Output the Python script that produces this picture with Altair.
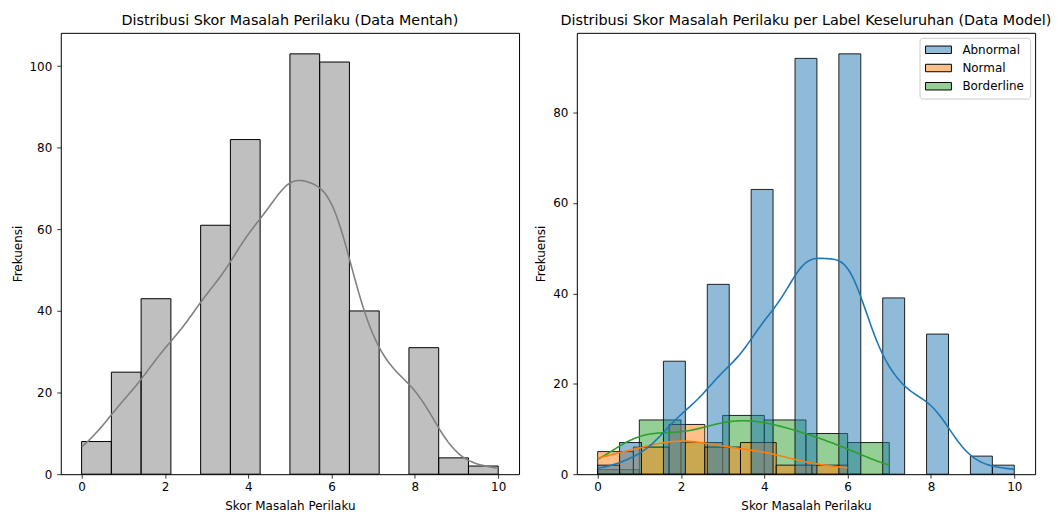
import altair as alt
import numpy as np
import pandas as pd

# ---------------- data ----------------
scores = list(range(11))
raw_counts = [8, 25, 43, 61, 82, 103, 101, 40, 31, 4, 2]
abnormal_counts = [2, 7, 25, 42, 63, 92, 93, 39, 31, 4, 2]
normal_counts = [5, 6, 11, 6, 7, 2, 2, 0, 0, 0, 0]
borderline_counts = [1, 12, 7, 13, 12, 9, 6, 1, 0, 0, 0]

labels = ["Abnormal", "Normal", "Borderline"]
label_colors = ["#1f77b4", "#ff7f0e", "#2ca02c"]

# number of histogram bins used for each series
bins_raw = 14
bins_group = {"Abnormal": 19, "Normal": 7, "Borderline": 7}

x_ticks = [0, 2, 4, 6, 8, 10]
y_ticks_left = [0, 20, 40, 60, 80, 100]
y_ticks_right = [0, 20, 40, 60, 80]

title_left = "Distribusi Skor Masalah Perilaku (Data Mentah)"
title_right = "Distribusi Skor Masalah Perilaku per Label Keseluruhan (Data Model)"
x_title = "Skor Masalah Perilaku"
y_title = "Frekuensi"

FONT = "DejaVu Sans"

# ---------------- tables built from the arrays ----------------
def expand(counts):
    return np.repeat(np.array(scores, dtype=float), counts)

def hist_table(values, nbins, name):
    lo, hi = values.min(), values.max()
    cnt, edges = np.histogram(values, bins=nbins, range=(lo, hi))
    rows = [
        {"group": name, "start": float(edges[i]), "end": float(edges[i + 1]), "count": int(c)}
        for i, c in enumerate(cnt) if c > 0
    ]
    return pd.DataFrame(rows), (hi - lo) / nbins

raw_values = expand(raw_counts)
group_values = {
    "Abnormal": expand(abnormal_counts),
    "Normal": expand(normal_counts),
    "Borderline": expand(borderline_counts),
}

raw_hist, raw_bw = hist_table(raw_values, bins_raw, "raw")
group_hist = {}
group_binw = {}
for g in labels:
    group_hist[g], group_binw[g] = hist_table(group_values[g], bins_group[g], g)

def scott_bw(v):
    return float(np.std(v, ddof=1) * len(v) ** (-1 / 5))

x_scale = alt.Scale(domain=[-0.5, 10.5], nice=False, zero=False)
y_left = alt.Scale(domain=[0, max(raw_counts) * 1.05], nice=False)
y_right = alt.Scale(domain=[0, max(abnormal_counts) * 1.05], nice=False)

def x_axis(title):
    return alt.Axis(values=x_ticks, title=title, labelPadding=3, titlePadding=8)

def y_axis(values):
    return alt.Axis(values=values, title=y_title, labelPadding=5, titlePadding=5)

W, H = 460, 443

# ---------------- left panel ----------------
left_bars = alt.Chart(raw_hist).mark_bar(fill="#808080").encode(
    x=alt.X("start:Q", scale=x_scale, axis=x_axis(x_title)),
    x2="end:Q",
    y=alt.Y("count:Q", scale=y_left, axis=y_axis(y_ticks_left)),
    y2=alt.datum(0),
)

raw_df = pd.DataFrame({"score": raw_values})
n_raw = len(raw_values)
left_kde = alt.Chart(raw_df).transform_density(
    "score", as_=["score", "density"], bandwidth=scott_bw(raw_values),
    extent=[float(raw_values.min()), float(raw_values.max())], steps=200,
).transform_calculate(
    kde=f"datum.density * {n_raw} * {raw_bw}"
).mark_line(color="#808080", strokeWidth=1.6).encode(
    x=alt.X("score:Q", scale=x_scale),
    y=alt.Y("kde:Q", scale=y_left),
)

left = alt.layer(left_bars, left_kde).properties(
    width=W, height=H, title=alt.TitleParams(title_left)
)

# ---------------- right panel ----------------
# bars drawn in order Borderline -> Normal -> Abnormal (Abnormal on top)
right_hist = pd.concat([group_hist["Borderline"], group_hist["Normal"], group_hist["Abnormal"]],
                       ignore_index=True)

right_bars = alt.Chart(right_hist).mark_bar(strokeOpacity=0.85).encode(
    x=alt.X("start:Q", scale=x_scale, axis=x_axis(x_title)),
    x2="end:Q",
    y=alt.Y("count:Q", scale=y_right, axis=y_axis(y_ticks_right)),
    y2=alt.datum(0),
    color=alt.Color(
        "group:N",
        scale=alt.Scale(domain=labels, range=label_colors),
        legend=alt.Legend(
            title=None, orient="top-right", offset=5,
            symbolType="M-2.6,-0.75L2.6,-0.75L2.6,0.75L-2.6,0.75Z",
            symbolSize=100, symbolStrokeColor="black", symbolStrokeWidth=1,
            symbolOffset=7, labelOffset=18, labelFont=FONT, labelFontSize=12,
            labelColor="black", rowPadding=6.3, padding=6,
            fillColor="white", strokeColor="#cccccc", cornerRadius=3,
        ),
    ),
)

kde_layers = []
for g in ["Borderline", "Normal", "Abnormal"]:
    v = group_values[g]
    df = pd.DataFrame({"score": v, "group": g})
    kde_layers.append(
        alt.Chart(df).transform_density(
            "score", as_=["score", "density"], bandwidth=scott_bw(v),
            extent=[float(v.min()), float(v.max())], steps=200,
        ).transform_calculate(
            kde=f"datum.density * {len(v)} * {group_binw[g]}", group=f"'{g}'"
        ).mark_line(strokeWidth=1.6).encode(
            x=alt.X("score:Q", scale=x_scale),
            y=alt.Y("kde:Q", scale=y_right),
            stroke=alt.Stroke("group:N", scale=alt.Scale(domain=labels, range=label_colors),
                              legend=None),
        )
    )

right = alt.layer(right_bars, *kde_layers).properties(
    width=W, height=H, title=alt.TitleParams(title_right)
)

chart = alt.hconcat(left, right, spacing=14).resolve_scale(
    color="independent"
).resolve_legend(
    color="independent"
).properties(
    padding={"left": 10, "top": 12, "right": 10, "bottom": 0},
    background="white",
).configure_bar(
    fillOpacity=0.5, stroke="black", strokeWidth=1
).configure_view(
    stroke="black", strokeWidth=1
).configure_axis(
    domain=False, grid=False, tickColor="black", tickSize=4, tickWidth=0.8,
    labelFont=FONT, labelFontSize=12, labelColor="black",
    titleFont=FONT, titleFontSize=12, titleFontWeight="normal", titleColor="black",
).configure_title(
    font=FONT, fontSize=14.4, fontWeight="normal", color="black",
    anchor="middle", offset=4,
)

chart.save("out.html", embed_options={"renderer": "svg", "actions": False})
